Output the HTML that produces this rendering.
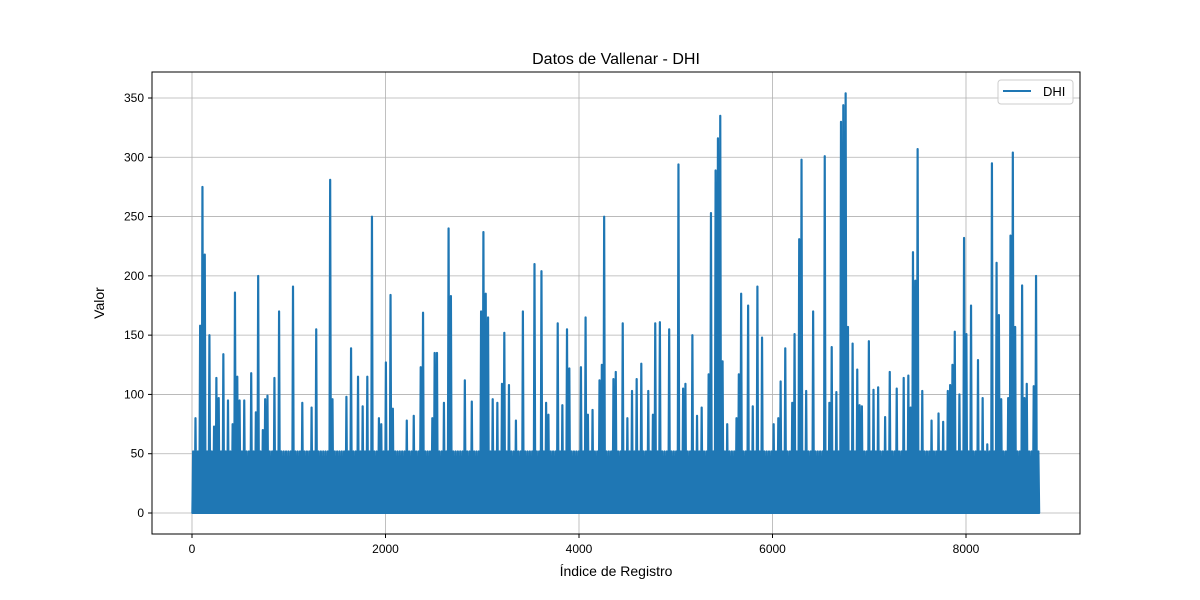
<!DOCTYPE html>
<html><head><meta charset="utf-8"><style>
body{margin:0;background:#fff;}
svg{display:block;font-family:"Liberation Sans","DejaVu Sans",sans-serif;}
</style></head><body>
<svg id="chart" width="1200" height="600" viewBox="0 0 1200 600">
<rect width="1200" height="600" fill="#fff"/>
<g id="grid"></g>
<g id="series" clip-path="url(#clip)"></g>
<defs><clipPath id="clip"><rect x="152" y="72" width="928" height="462"/></clipPath></defs>
<rect x="152" y="72" width="928" height="462" fill="none" stroke="#000" stroke-width="1"/>
<g id="ticks"></g>
<text x="616" y="64" text-anchor="middle" font-size="16">Datos de Vallenar - DHI</text>
<text x="616" y="576" text-anchor="middle" font-size="14">Índice de Registro</text>
<text transform="translate(104,303) rotate(-90)" text-anchor="middle" font-size="14">Valor</text>
<g>
<rect x="998" y="80" width="75" height="24" rx="3" fill="#fff" fill-opacity="0.8" stroke="#ccc"/>
<line x1="1003" y1="91" x2="1031" y2="91" stroke="#1f77b4" stroke-width="2"/>
<text x="1043" y="96" font-size="13">DHI</text>
</g>
</svg>
<script>
const totalHours = [8760];
const baseline = [52];
const spikeIdx = [31,73,104,135,176,228,259,280,321,373,425,445,466,497,549,611,653,684,736,767,787,850,891,901,1036,1046,1140,1233,1285,1430,1461,1606,1637,1720,1761,1813,1865,1927,1958,2010,2051,2072,2227,2300,2352,2383,2476,2507,2528,2600,2652,2673,2818,2890,2994,3015,3046,3067,3098,3149,3212,3232,3274,3346,3408,3533,3605,3667,3688,3781,3823,3875,3895,4009,4061,4103,4134,4217,4237,4248,4351,4382,4444,4496,4548,4589,4652,4724,4755,4797,4838,4942,5025,5076,5097,5170,5221,5263,5346,5366,5408,5439,5460,5480,5543,5625,5656,5677,5739,5802,5853,5884,6009,6050,6091,6143,6205,6216,6268,6309,6351,6413,6548,6599,6620,6651,6703,6724,6744,6755,6786,6827,6869,6889,6931,6993,7034,7097,7159,7200,7283,7366,7397,7428,7459,7480,7501,7542,7646,7708,7760,7812,7832,7853,7874,7884,7925,7977,8008,8050,8112,8164,8215,8267,8309,8350,8371,8433,8464,8474,8506,8578,8609,8630,8692,8713,8734];
const spikeVal = [80,158,275,218,150,73,114,97,134,95,75,186,115,95,95,118,85,200,70,96,99,114,93,170,112,191,93,89,155,281,96,98,139,115,90,115,250,80,75,127,184,88,78,82,123,169,80,135,135,93,240,183,112,94,170,237,185,165,96,93,109,152,108,78,170,210,204,93,83,160,91,155,122,123,165,83,87,112,125,250,113,119,160,80,103,113,126,103,83,160,161,155,294,105,109,150,82,89,117,253,289,316,335,128,75,80,117,185,175,90,191,148,75,80,111,139,93,151,231,298,103,170,301,93,140,102,330,344,175,354,157,143,121,91,90,145,104,106,81,119,105,114,116,89,220,196,307,103,78,84,77,103,108,125,153,122,100,232,151,175,129,97,58,295,211,167,96,97,234,304,157,192,97,109,107,82,200];
const xTicks = [0,2000,4000,6000,8000];
const yTicks = [0,50,100,150,200,250,300,350];

const NS = "http://www.w3.org/2000/svg";
const L=152,R=1080,T=72,B=534;
const xs = v => 192 + v*(385.5-192)/2000;
const ys = v => 513 - v*(513-98)/350;

const grid=document.getElementById('grid'), ticks=document.getElementById('ticks'), series=document.getElementById('series');
function mk(tag,attrs,parent){const e=document.createElementNS(NS,tag);for(const k in attrs)e.setAttribute(k,attrs[k]);parent.appendChild(e);return e;}

xTicks.forEach(t=>{
  const x=xs(t);
  const g=mk('line',{x1:x,x2:x,y1:T,y2:B,stroke:'#b0b0b0','stroke-width':0.8},grid);
  
  
  mk('line',{x1:x,x2:x,y1:B,y2:B+4,stroke:'#000'},ticks);
  const tx=mk('text',{x:x,y:B+19,'text-anchor':'middle','font-size':12},ticks);
  tx.textContent=t;
  
  
});
yTicks.forEach(t=>{
  const y=ys(t);
  const g=mk('line',{x1:L,x2:R,y1:y,y2:y,stroke:'#b0b0b0','stroke-width':0.8},grid);
  
  
  mk('line',{x1:L-4,x2:L,y1:y,y2:y,stroke:'#000'},ticks);
  const tx=mk('text',{x:L-8,y:y+4,'text-anchor':'end','font-size':12},ticks);
  tx.textContent=t;
  
  
});

const days=Math.ceil(totalHours[0]/24);
const peaks=[];for(let d=0;d<days;d++)peaks.push(baseline[0]);
spikeIdx.forEach((h,i)=>{const d=Math.floor(h/24);peaks[d]=Math.max(peaks[d],spikeVal[i]);});
let pts=[];
for(let d=0;d<days;d++){
  const h0=d*24;
  pts.push(xs(h0+3).toFixed(2)+','+ys(0).toFixed(2));
  pts.push(xs(h0+11).toFixed(2)+','+ys(peaks[d]).toFixed(2));
  pts.push(xs(h0+13).toFixed(2)+','+ys(peaks[d]).toFixed(2));
  pts.push(xs(Math.min(h0+21,totalHours[0])).toFixed(2)+','+ys(0).toFixed(2));
}
const band=mk('polygon',{points:pts.join(' '),fill:'#1f77b4',stroke:'#1f77b4','stroke-width':2,'stroke-linejoin':'round'},series);


</script>
</body></html>
